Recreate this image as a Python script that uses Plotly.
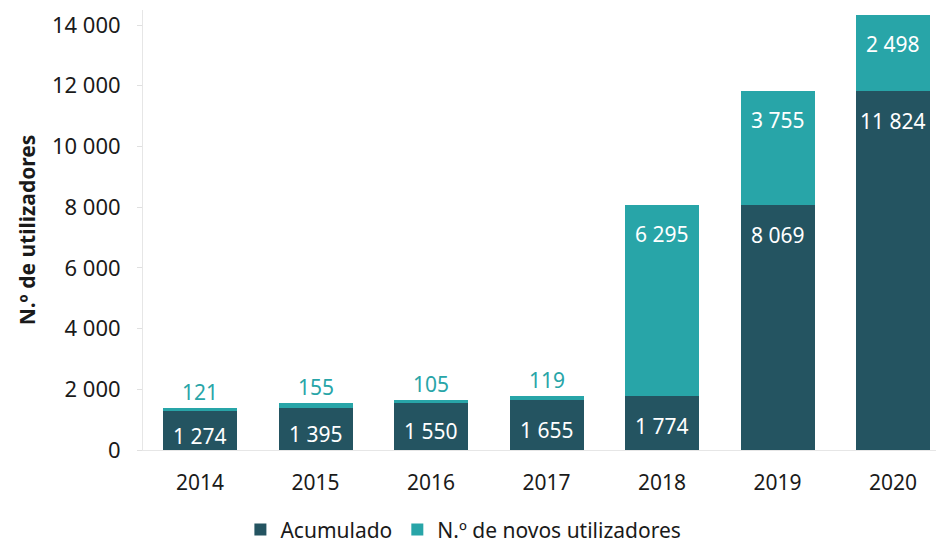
import plotly.graph_objects as go

years = ["2014", "2015", "2016", "2017", "2018", "2019", "2020"]
acumulado = [1274, 1395, 1550, 1655, 1774, 8069, 11824]
novos = [121, 155, 105, 119, 6295, 3755, 2498]
y_ticks = [0, 2000, 4000, 6000, 8000, 10000, 12000, 14000]

DARK = "#245461"
TEAL = "#28a5a8"
FONT = "Noto Sans"

def fmt(v):
    return f"{v:,}".replace(",", " ")

fig = go.Figure()
fig.add_trace(go.Bar(x=years, y=acumulado, name="Acumulado", marker_color=DARK,
                     marker_line_width=0))
fig.add_trace(go.Bar(x=years, y=novos, name="N.º de novos utilizadores", marker_color=TEAL,
                     marker_line_width=0))

for i, yr in enumerate(years):
    a = acumulado[i]
    n = novos[i]
    top = a + n
    if n > 1000:
        fig.add_annotation(x=i, y=a, xref="x", yref="y", text=fmt(a), yshift=-30,
                           showarrow=False, font=dict(color="white", size=21, family=FONT))
        fig.add_annotation(x=i, y=top, xref="x", yref="y", text=fmt(n), yshift=-29,
                           showarrow=False, font=dict(color="white", size=21, family=FONT))
    else:
        fig.add_annotation(x=i, y=a / 2, xref="x", yref="y", text=fmt(a), yshift=-5,
                           showarrow=False, font=dict(color="white", size=21, family=FONT))
        fig.add_annotation(x=i, y=top, xref="x", yref="y", text=fmt(n), yshift=16,
                           showarrow=False, font=dict(color=TEAL, size=21, family=FONT))

fig.update_layout(
    barmode="stack",
    bargap=0.36,
    width=936, height=537,
    margin=dict(l=135, r=0, t=2, b=95, autoexpand=False),
    plot_bgcolor="white", paper_bgcolor="white",
    separators=". ",
    font=dict(family=FONT, size=20, color="#1a1a1a"),
    showlegend=True,
    legend=dict(orientation="h", x=0.40, xanchor="center", yref="container", y=0.028,
                yanchor="middle", font=dict(size=21, color="#1a1a1a"), traceorder="normal"),
    xaxis=dict(type="category", range=[-0.494, 6.441], showline=True, linecolor="#e6e6e6",
               linewidth=1, ticks="", ticklabelstandoff=14, tickfont=dict(size=21),
               automargin=False),
    yaxis=dict(range=[0, 14494], tickvals=y_ticks, tickformat=",", showgrid=False,
               showline=True, linecolor="#e6e6e6", linewidth=1,
               ticks="outside", ticklen=5, tickcolor="#e0e0e0", ticklabelstandoff=12,
               tickfont=dict(size=22), zeroline=False, automargin=False,
               title=dict(text="N.º de utilizadores", standoff=10,
                          font=dict(size=21, family=FONT, weight="bold"))),
)

fig.write_html("out.html")
